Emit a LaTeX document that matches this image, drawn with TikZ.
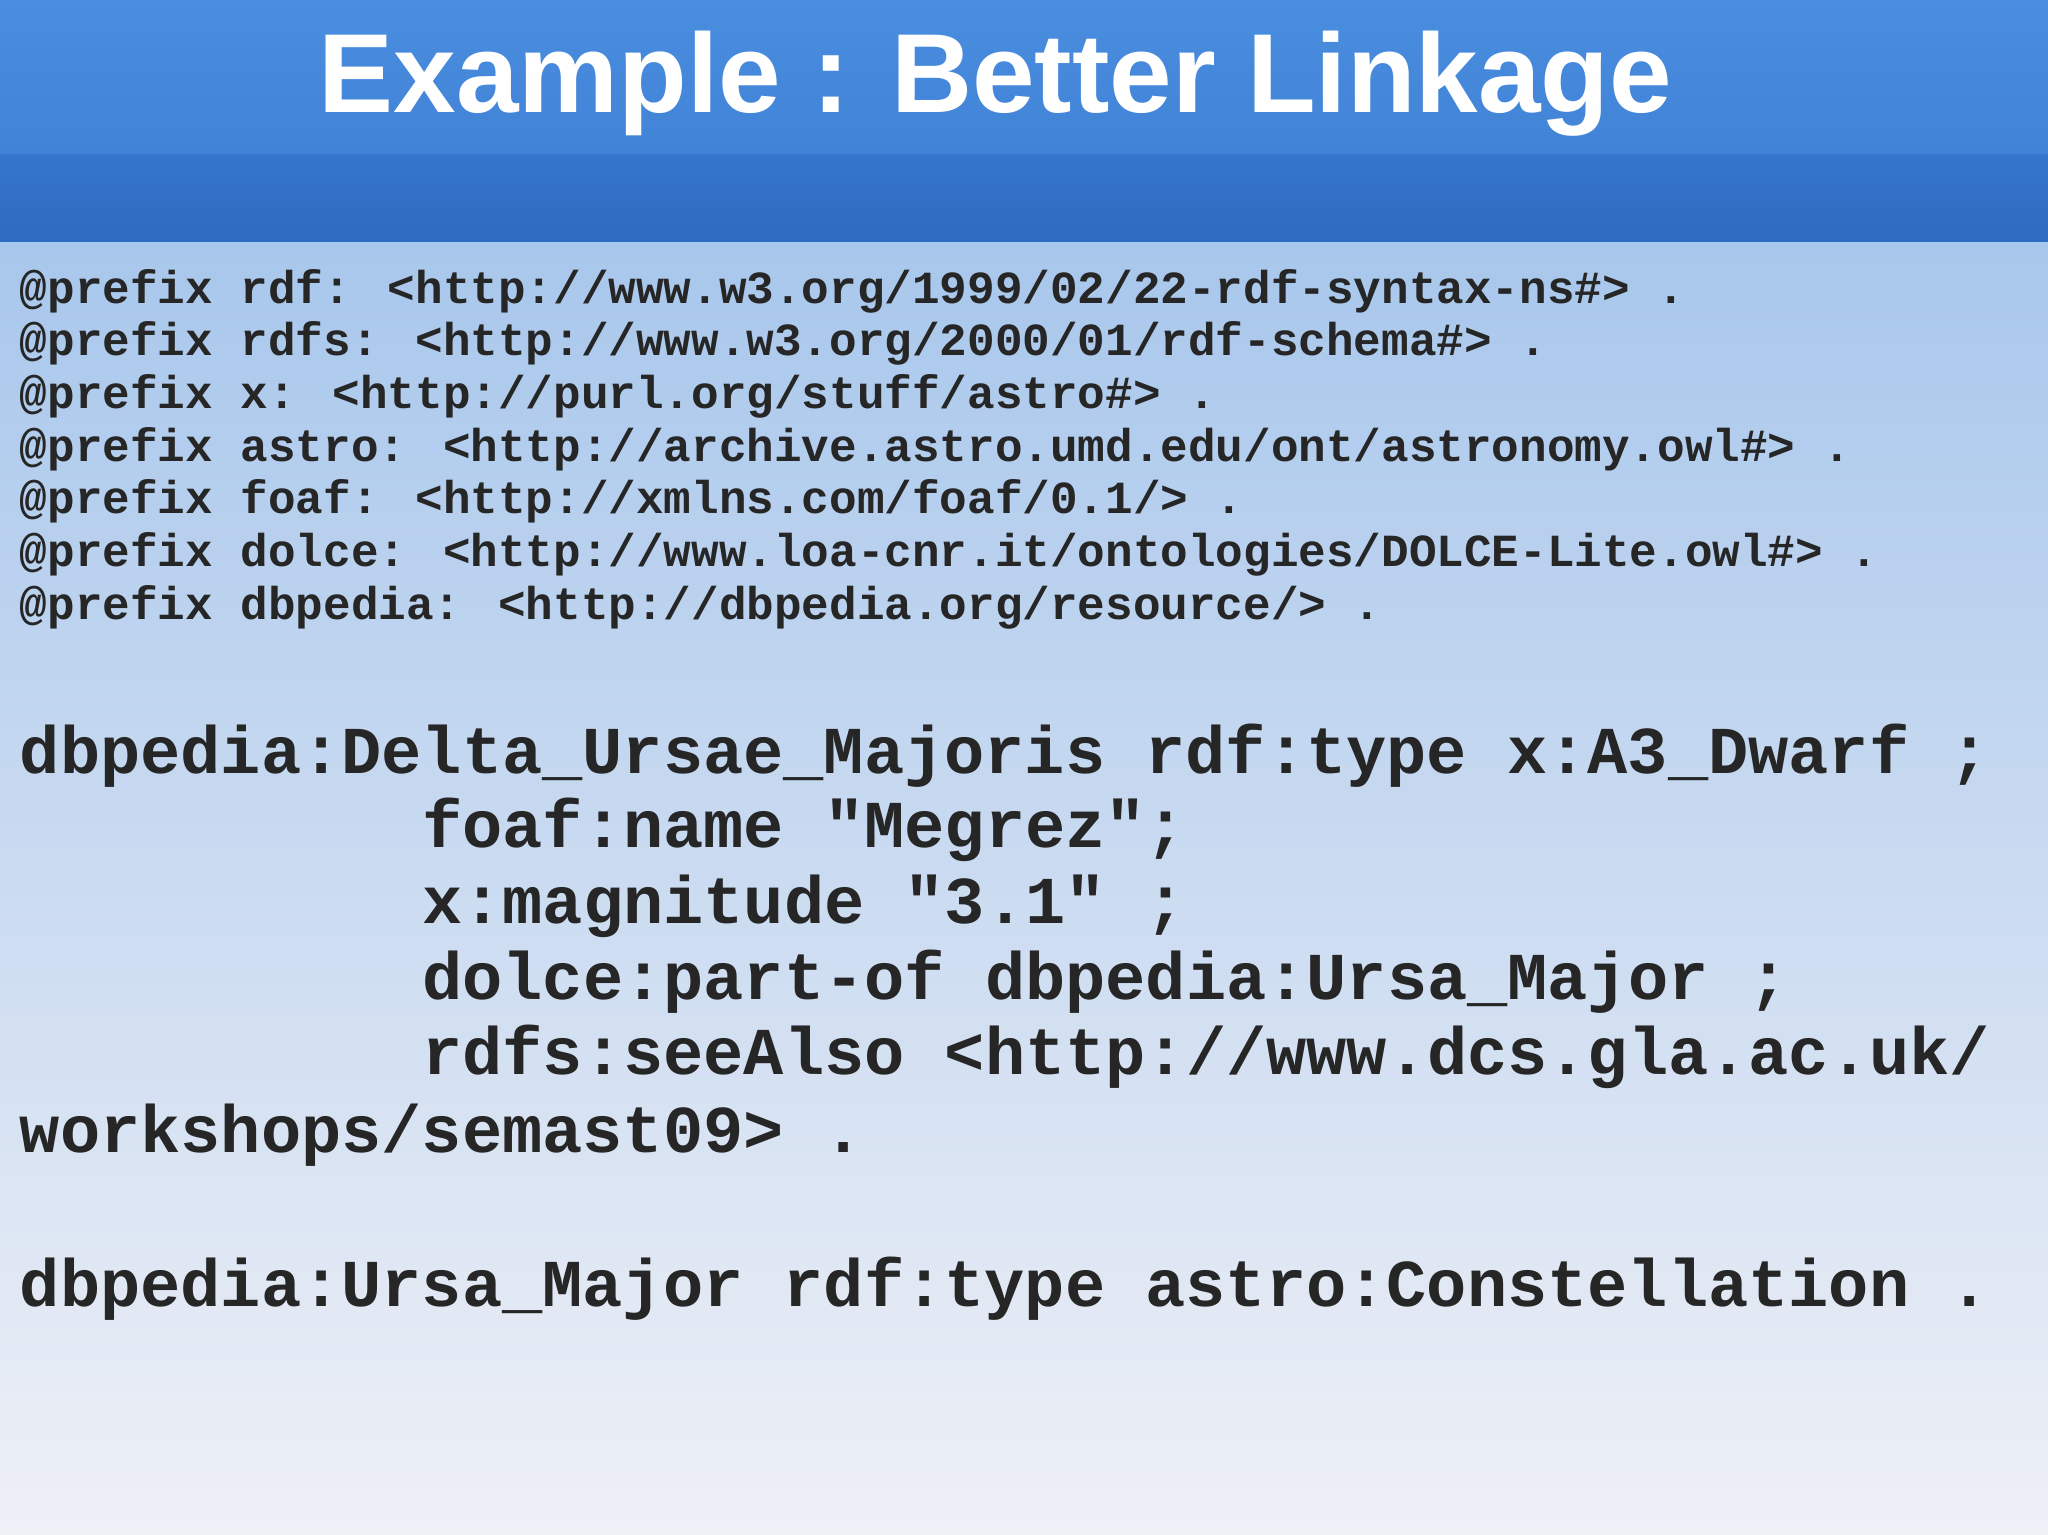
\documentclass[tikz,border=0pt]{standalone}
\usepackage{fontspec}
\setmainfont{Liberation Sans}
\newfontfamily\codefont{Liberation Mono}
\begin{document}
\begin{tikzpicture}[x=0.6531pt,y=-0.6531pt,
  pre/.style={anchor=base west,inner sep=0pt,font=\codefont\bfseries\fontsize{23.0pt}{24pt}\selectfont,text=black!85},
  big/.style={anchor=base west,inner sep=0pt,font=\codefont\bfseries\fontsize{33.5pt}{34pt}\selectfont,text=black!85}]
\definecolor{bgtop}{HTML}{A8C7EC}
\definecolor{bgbot}{HTML}{EEF0F6}
\definecolor{hdrA}{HTML}{4A8EE0}
\definecolor{hdrB}{HTML}{4183D6}
\definecolor{bandA}{HTML}{3576CC}
\definecolor{bandB}{HTML}{2E6AC0}
\useasboundingbox (0,0) rectangle (1568,1175);
\shade[top color=bgtop,bottom color=bgbot] (0,185) rectangle (1568,1175);
\shade[top color=hdrA,bottom color=hdrB] (0,0) rectangle (1568,118);
\shade[top color=bandA,bottom color=bandB] (0,118) rectangle (1568,185);
\node[font=\bfseries\fontsize{56.2pt}{58pt}\selectfont,text=white] (title) at (762,64) {Example : Better Linkage};
\node[pre] (p1) at (15,232) {@prefix rdf: <http://www.w3.org/1999/02/22-rdf-syntax-ns\#> .};
\node[pre] (p2) at (15,272) {@prefix rdfs: <http://www.w3.org/2000/01/rdf-schema\#> .};
\node[pre] (p3) at (15,313) {@prefix x: <http://purl.org/stuff/astro\#> .};
\node[pre] (p4) at (15,353) {@prefix astro: <http://archive.astro.umd.edu/ont/astronomy.owl\#> .};
\node[pre] (p5) at (15,393) {@prefix foaf: <http://xmlns.com/foaf/0.1/> .};
\node[pre] (p6) at (15,434) {@prefix dolce: <http://www.loa-cnr.it/ontologies/DOLCE-Lite.owl\#> .};
\node[pre] (p7) at (15,474) {@prefix dbpedia: <http://dbpedia.org/resource/> .};
\node[big] (b1) at (15,592) {dbpedia:Delta\_Ursae\_Majoris rdf:type x:A3\_Dwarf ;};
\node[big] (b2) at (323,649) {foaf:name "Megrez";};
\node[big] (b3) at (323,707) {x:magnitude "3.1" ;};
\node[big] (b4) at (323,765) {dolce:part-of dbpedia:Ursa\_Major ;};
\node[big] (b5) at (323,823) {rdfs:seeAlso <http://www.dcs.gla.ac.uk/};
\node[big] (b6) at (15,882) {workshops/semast09> .};
\node[big] (b7) at (15,1000) {dbpedia:Ursa\_Major rdf:type astro:Constellation .};
\end{tikzpicture}
\end{document}
